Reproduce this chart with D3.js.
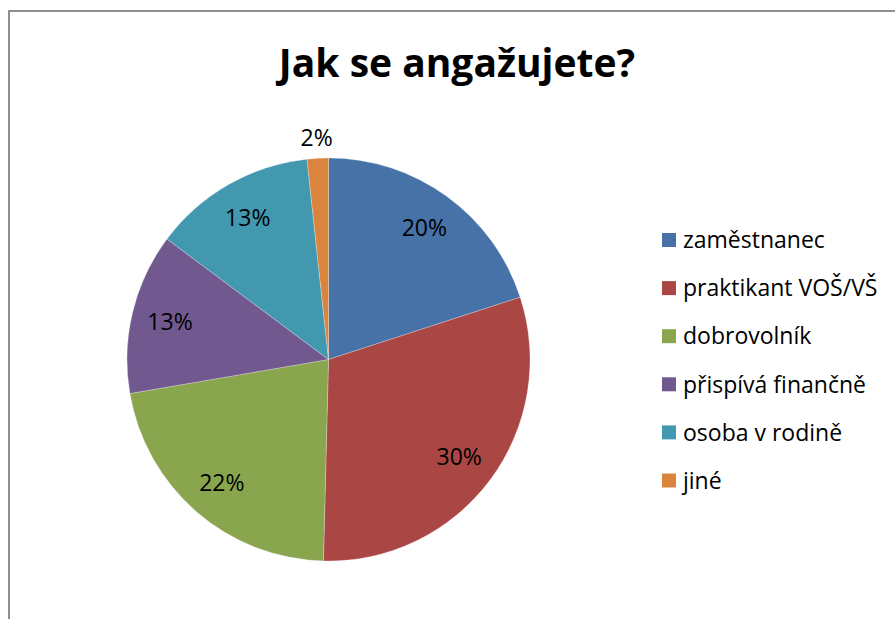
<!DOCTYPE html>
<html>
<head>
<meta charset="utf-8">
<script src="https://cdn.jsdelivr.net/npm/d3@7"></script>
<style>
  body { margin: 0; background: #fff; }
  svg { display: block; font-family: "Open Sans", sans-serif; }
</style>
</head>
<body>
<script>
// answers, shares in %
const categories = ['zaměstnanec', 'praktikant VOŠ/VŠ', 'dobrovolník', 'přispívá finančně', 'osoba v rodině', 'jiné'];
const shares = [20.0, 30.4, 21.9, 12.9, 13.1, 1.7];
const colors = ['#4672a8', '#aa4644', '#89a54e', '#71598f', '#4298af', '#db843d'];

const w = 895, h = 619;
const cx = 328.5, cy = 359.5, r = 201.5;

const svg = d3.select('body')
    .append('svg')
    .attr('width', w)
    .attr('height', h);

// chart frame
svg.append('path')
    .attr('d', `M9,${h + 5} L9,11 L${w + 5},11`)
    .attr('fill', 'none')
    .attr('stroke', '#8f8f8f')
    .attr('stroke-width', 2);

svg.append('text')
    .attr('x', 457)
    .attr('y', 77)
    .attr('text-anchor', 'middle')
    .attr('font-size', 39)
    .attr('font-weight', 'bold')
    .attr('fill', '#000')
    .text('Jak se angažujete?');

const total = d3.sum(shares);
const pie = d3.pie().sort(null).value(d => d)(shares);

const arc = d3.arc().innerRadius(0).outerRadius(r);
const labelArc = d3.arc().innerRadius(163).outerRadius(163);
const outerArc = d3.arc().innerRadius(222).outerRadius(222);

const g = svg.append('g').attr('transform', `translate(${cx},${cy})`);

g.selectAll('path')
    .data(pie)
    .enter()
    .append('path')
    .attr('d', arc)
    .attr('fill', (d, i) => colors[i])
    .attr('stroke', '#fff')
    .attr('stroke-width', 0.5)
    .attr('stroke-opacity', 0.5);

g.selectAll('text')
    .data(pie)
    .enter()
    .append('text')
    .attr('transform', d => {
        let c = (d.data / total < 0.05 ? outerArc : labelArc).centroid(d);
        return `translate(${c[0]},${c[1]})`;
    })
    .attr('text-anchor', 'middle')
    .attr('dy', '0.36em')
    .attr('font-size', 23)
    .attr('fill', '#000')
    .text(d => Math.round(d.data / total * 100) + '%');

const legend = svg.append('g')
    .attr('transform', 'translate(662,240)');

const rows = legend.selectAll('g')
    .data(categories)
    .enter()
    .append('g')
    .attr('transform', (d, i) => `translate(0,${i * 48.1})`);

rows.append('rect')
    .attr('x', 0)
    .attr('y', -7)
    .attr('width', 14)
    .attr('height', 14)
    .attr('fill', (d, i) => colors[i]);

rows.append('text')
    .attr('x', 21)
    .attr('dy', '0.36em')
    .attr('font-size', 23)
    .attr('fill', '#000')
    .text(d => d);
</script>
</body>
</html>
